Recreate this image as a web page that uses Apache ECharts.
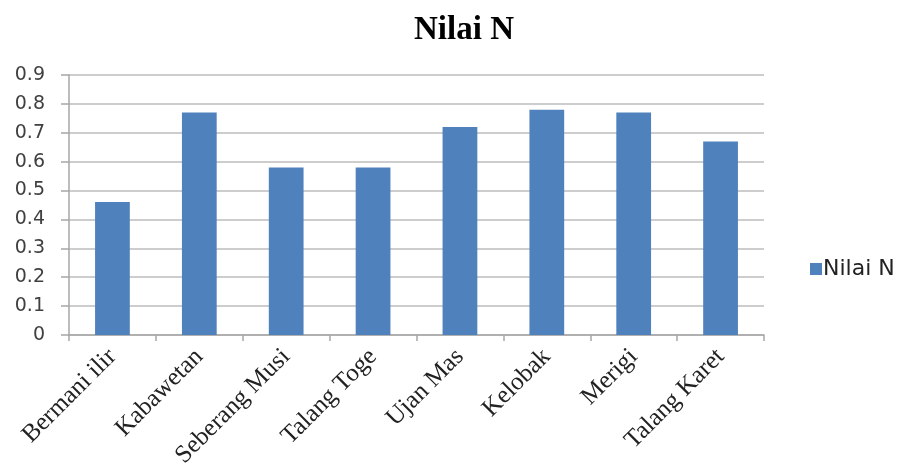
<!DOCTYPE html>
<html>
<head>
<meta charset="utf-8">
<script src="https://cdn.jsdelivr.net/npm/echarts@6/dist/echarts.min.js"></script>
<style>
  html, body { margin: 0; padding: 0; background: #fff; }
  #chart { width: 901px; height: 464px; }
</style>
</head>
<body>
<div id="chart"></div>
<script>
const categories = ["Bermani ilir", "Kabawetan", "Seberang Musi", "Talang Toge", "Ujan Mas", "Kelobak", "Merigi", "Talang Karet"];
const nilaiN = [0.46, 0.77, 0.58, 0.58, 0.72, 0.78, 0.77, 0.67];
const seriesName = "Nilai N";

const myChart = echarts.init(document.getElementById("chart"));
const option = {
  animation: false,
  title: {
    text: "Nilai N",
    left: 459,
    textAlign: "center",
    top: 9,
    textStyle: {
      fontFamily: "Liberation Serif",
      fontWeight: "bold",
      fontSize: 33,
      color: "#000"
    }
  },
  legend: {
    data: [seriesName],
    orient: "vertical",
    left: 805,
    top: 253,
    icon: "rect",
    itemWidth: 12,
    itemHeight: 12,
    itemGap: 5,
    textStyle: {
      fontFamily: "DejaVu Sans",
      fontSize: 22,
      color: "#222",
      padding: [0, 0, 0, -4]
    }
  },
  grid: {
    left: 69,
    right: 137,
    top: 75,
    bottom: 129,
    containLabel: false,
    outerBoundsMode: "none"
  },
  xAxis: {
    type: "category",
    data: categories,
    boundaryGap: true,
    axisLine: { lineStyle: { color: "#a6a6a6", width: 1.5 } },
    axisTick: { show: true, length: 6, lineStyle: { color: "#a6a6a6", width: 1.5 } },
    axisLabel: {
      rotate: 45,
      margin: 18,
      interval: 0,
      fontFamily: "Liberation Serif",
      fontSize: 25,
      color: "#222"
    }
  },
  yAxis: {
    type: "value",
    min: 0,
    max: 0.9,
    interval: 0.1,
    axisLine: { show: true, lineStyle: { color: "#a6a6a6", width: 1.5 } },
    axisTick: { show: true, length: 8, lineStyle: { color: "#a6a6a6", width: 1.5 } },
    splitLine: { lineStyle: { color: "#bdbdbd", width: 1.5 } },
    axisLabel: {
      margin: 24,
      fontFamily: "DejaVu Sans",
      fontSize: 19,
      color: "#404040",
      formatter: function (v) { return v === 0 ? "0" : v.toFixed(1); }
    }
  },
  series: [
    {
      name: seriesName,
      type: "bar",
      data: nilaiN,
      barWidth: "40%",
      itemStyle: { color: "#4f81bd" }
    }
  ]
};
myChart.setOption(option, true);
</script>
</body>
</html>
